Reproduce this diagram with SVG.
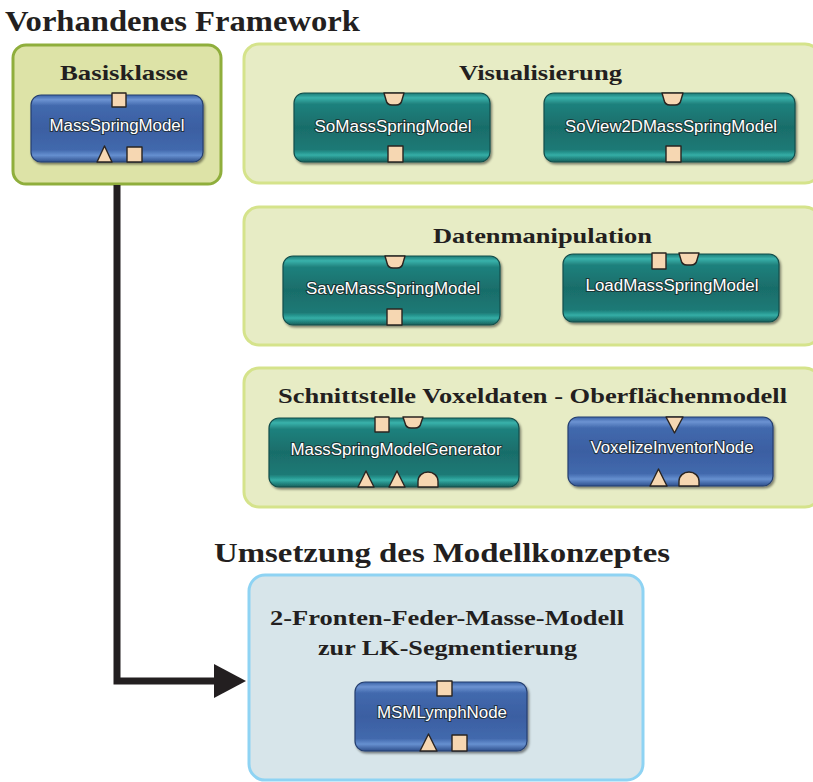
<svg xmlns="http://www.w3.org/2000/svg" width="813" height="782" viewBox="0 0 813 782">
<style>
.title{font-family:"Liberation Serif","Times New Roman",serif;font-weight:bold;fill:#231f20}
.lbl{font-family:"Liberation Sans",Arial,sans-serif;font-size:16px;fill:#ffffff;stroke:#1a2424;stroke-width:2;stroke-opacity:0.75;paint-order:stroke;text-anchor:middle}
.port{fill:#f6d7b2;stroke:#2a2420;stroke-width:1.4;stroke-linejoin:round}
.panelG{fill:#e7ecc5;stroke:#d5e38b;stroke-width:3}
.panelB{fill:#dde3a7;stroke:#8fae3c;stroke-width:3}
.panelL{fill:#d7e5ea;stroke:#8ed3f3;stroke-width:3}
.teal{fill:url(#gTeal);stroke:#124e4b;stroke-width:1.2}
.blue{fill:url(#gBlue);stroke:#253f70;stroke-width:1.2}
.conn{fill:none;stroke:#231f20;stroke-width:7;stroke-linejoin:miter}
</style>
<defs>
<linearGradient id="gTeal" x1="0" y1="0" x2="0" y2="1">
<stop offset="0" stop-color="#1c7a76"/>
<stop offset="0.07" stop-color="#39b2ab"/>
<stop offset="0.16" stop-color="#1f817d"/>
<stop offset="0.5" stop-color="#196d6a"/>
<stop offset="0.82" stop-color="#1c7a76"/>
<stop offset="0.9" stop-color="#33aea6"/>
<stop offset="1" stop-color="#145d5a"/>
</linearGradient>
<linearGradient id="gBlue" x1="0" y1="0" x2="0" y2="1">
<stop offset="0" stop-color="#3a62a6"/>
<stop offset="0.07" stop-color="#6c93d2"/>
<stop offset="0.16" stop-color="#4269ad"/>
<stop offset="0.5" stop-color="#3b5fa2"/>
<stop offset="0.82" stop-color="#4269ad"/>
<stop offset="0.9" stop-color="#6690d0"/>
<stop offset="1" stop-color="#2f4f8c"/>
</linearGradient>
<filter id="sh" x="-5%" y="-10%" width="112%" height="125%">
<feDropShadow dx="1.5" dy="2" stdDeviation="1.2" flood-color="#000" flood-opacity="0.45"/>
</filter>
<marker id="arr" markerUnits="userSpaceOnUse" markerWidth="34" markerHeight="36" refX="2" refY="17" orient="auto">
<polygon points="0,0 32,17 0,34" fill="#231f20"/>
</marker>
</defs>
<rect width="813" height="782" fill="#ffffff"/>

<text class="title" x="5" y="31" font-size="29" textLength="355" lengthAdjust="spacingAndGlyphs">Vorhandenes Framework</text>
<text class="title" x="214" y="562" font-size="27" textLength="456" lengthAdjust="spacingAndGlyphs">Umsetzung des Modellkonzeptes</text>

<g id="panel-basisklasse">
<rect class="panelB" x="13" y="45" width="208" height="139" rx="13"/>
<text class="title" x="60" y="80" font-size="22" textLength="128" lengthAdjust="spacingAndGlyphs">Basisklasse</text>
</g>
<g id="panel-visualisierung">
<rect class="panelG" x="244" y="44" width="576" height="139" rx="15"/>
<text class="title" x="459" y="80" font-size="22" textLength="163" lengthAdjust="spacingAndGlyphs">Visualisierung</text>
</g>
<g id="panel-datenmanipulation">
<rect class="panelG" x="244" y="207" width="576" height="138" rx="15"/>
<text class="title" x="433" y="243" font-size="22" textLength="219" lengthAdjust="spacingAndGlyphs">Datenmanipulation</text>
</g>
<g id="panel-schnittstelle">
<rect class="panelG" x="244" y="368" width="576" height="139" rx="15"/>
<text class="title" x="278" y="403" font-size="22" textLength="509" lengthAdjust="spacingAndGlyphs">Schnittstelle Voxeldaten - Oberflächenmodell</text>
</g>
<g id="panel-umsetzung">
<rect class="panelL" x="249" y="575" width="394" height="205" rx="16"/>
<text class="title" x="270" y="625" font-size="22" textLength="354" lengthAdjust="spacingAndGlyphs">2-Fronten-Feder-Masse-Modell</text>
<text class="title" x="318" y="655" font-size="22" textLength="259" lengthAdjust="spacingAndGlyphs">zur LK-Segmentierung</text>
</g>

<g id="connectors">
<path class="conn" d="M117,185 V681 H216" marker-end="url(#arr)"/>
</g>

<g id="node-MassSpringModel">
<rect class="blue" x="31" y="95" width="172" height="67" rx="10" filter="url(#sh)"/>
<text class="lbl" x="117" y="131" textLength="135" lengthAdjust="spacingAndGlyphs">MassSpringModel</text>
<rect class="port" x="112" y="93" width="14" height="14"/>
<polygon class="port" points="97,162 104.5,146 112,162"/>
<rect class="port" x="127" y="147" width="15" height="15"/>
</g>

<g id="node-SoMassSpringModel">
<rect class="teal" x="294" y="93" width="196" height="69" rx="10" filter="url(#sh)"/>
<text class="lbl" x="393" y="132" textLength="157" lengthAdjust="spacingAndGlyphs">SoMassSpringModel</text>
<path class="port" d="M384,93 h20 l-2,7 q-1,5 -6,5 h-4 q-5,0 -6,-5 z"/>
<rect class="port" x="388" y="146" width="15" height="16"/>
</g>

<g id="node-SoView2DMassSpringModel">
<rect class="teal" x="544" y="93" width="251" height="69" rx="10" filter="url(#sh)"/>
<text class="lbl" x="671" y="132" textLength="212" lengthAdjust="spacingAndGlyphs">SoView2DMassSpringModel</text>
<path class="port" d="M662,93 h21 l-2,7 q-1,5 -6,5 h-5 q-5,0 -6,-5 z"/>
<rect class="port" x="666" y="146" width="15" height="16"/>
</g>

<g id="node-SaveMassSpringModel">
<rect class="teal" x="283" y="256" width="217" height="69" rx="10" filter="url(#sh)"/>
<text class="lbl" x="393" y="294" textLength="174" lengthAdjust="spacingAndGlyphs">SaveMassSpringModel</text>
<path class="port" d="M385,256 h20 l-2,7 q-1,5 -6,5 h-4 q-5,0 -6,-5 z"/>
<rect class="port" x="387" y="309" width="15" height="16"/>
</g>

<g id="node-LoadMassSpringModel">
<rect class="teal" x="563" y="254" width="216" height="68" rx="10" filter="url(#sh)"/>
<text class="lbl" x="672" y="291" textLength="173" lengthAdjust="spacingAndGlyphs">LoadMassSpringModel</text>
<rect class="port" x="652" y="253" width="14" height="16"/>
<path class="port" d="M679,253 h20 l-2,7 q-1,5 -6,5 h-4 q-5,0 -6,-5 z"/>
</g>

<g id="node-MassSpringModelGenerator">
<rect class="teal" x="269" y="418" width="250" height="69" rx="10" filter="url(#sh)"/>
<text class="lbl" x="396" y="455" textLength="211" lengthAdjust="spacingAndGlyphs">MassSpringModelGenerator</text>
<rect class="port" x="375" y="417" width="14" height="15"/>
<path class="port" d="M403,417 h20 l-2,6 q-1,5 -6,5 h-4 q-5,0 -6,-5 z"/>
<polygon class="port" points="358,487 366,471 374,487"/>
<polygon class="port" points="389,487 397,471 405,487"/>
<path class="port" d="M418,487 v-6 a10,9 0 0 1 20,0 v6 z"/>
</g>

<g id="node-VoxelizeInventorNode">
<rect class="blue" x="568" y="417" width="205" height="69" rx="10" filter="url(#sh)"/>
<text class="lbl" x="672" y="453" textLength="163" lengthAdjust="spacingAndGlyphs">VoxelizeInventorNode</text>
<polygon class="port" points="666,417 683,417 674.5,433"/>
<polygon class="port" points="650,486 658.5,469 667,486"/>
<path class="port" d="M679,486 v-5 a10,9 0 0 1 20,0 v5 z"/>
</g>

<g id="node-MSMLymphNode">
<rect class="blue" x="355" y="682" width="172" height="69" rx="10" filter="url(#sh)"/>
<text class="lbl" x="442" y="718" textLength="130" lengthAdjust="spacingAndGlyphs">MSMLymphNode</text>
<rect class="port" x="437" y="681" width="15" height="15"/>
<polygon class="port" points="420,751 428.5,734 437,751"/>
<rect class="port" x="452" y="735" width="15" height="16"/>
</g>
</svg>
